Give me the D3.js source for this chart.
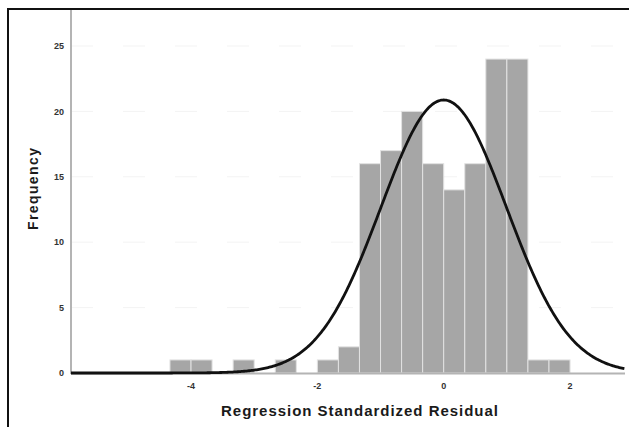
<!DOCTYPE html>
<html lang="en">
<head>
    <meta charset="UTF-8">
    <title>Histogram of Regression Standardized Residual</title>
    <script src="https://d3js.org/d3.v7.min.js"></script>
    <style>
        body { margin: 0; background: #fff; }
        svg { display: block; font-family: "Liberation Sans", Arial, sans-serif; }
    </style>
</head>
<body>

<script>
// bins are 1/3 wide, lower edge in thirds of a unit
const binStarts = [-13, -12, -10, -8, -6, -5, -4, -3, -2, -1, 0, 1, 2, 3, 4, 5];
const binCounts = [1, 1, 1, 1, 1, 2, 16, 17, 20, 16, 14, 16, 24, 24, 1, 1];
const binWidth = 1 / 3;

// fitted normal curve parameters
const residMean = 0;
const residSd = 0.994;
const residN = 156;

const xTicks = [-4, -2, 0, 2];
const yTicks = [0, 5, 10, 15, 20, 25];

const width = 629;
const height = 427;
const margin = {left: 71, top: 10, right: 4, bottom: 54};

const svg = d3.select("body").append("svg")
    .attr("width", width)
    .attr("height", height);

// outer frame (top and left edges visible)
svg.append("path")
    .attr("d", `M8,${height} V9 H${width}`)
    .attr("fill", "none")
    .attr("stroke", "#111")
    .attr("stroke-width", 2);

const x = d3.scaleLinear().domain([-5.9, 2.87]).range([margin.left, width - margin.right]);
const y = d3.scaleLinear().domain([0, 27.75]).range([height - margin.bottom, margin.top]);

// faint grid
svg.append("g")
    .selectAll("line")
    .data(yTicks.slice(1))
    .enter().append("line")
    .attr("x1", margin.left)
    .attr("x2", width - margin.right)
    .attr("y1", d => y(d))
    .attr("y2", d => y(d))
    .attr("stroke", "#f3f3f3")
    .attr("stroke-dasharray", "22,30");

// bars
const bins = binStarts.map((s, i) => ({x0: s * binWidth, x1: (s + 1) * binWidth, n: binCounts[i]}));
svg.append("g")
    .selectAll("rect")
    .data(bins)
    .enter().append("rect")
    .attr("x", d => x(d.x0))
    .attr("width", d => x(d.x1) - x(d.x0))
    .attr("y", d => y(d.n))
    .attr("height", d => y(0) - y(d.n))
    .attr("fill", "#a6a6a6")
    .attr("stroke", "#e2e2e2")
    .attr("stroke-width", 1);

// axes lines
svg.append("line")
    .attr("x1", margin.left).attr("x2", margin.left)
    .attr("y1", margin.top).attr("y2", y(0) + 1)
    .attr("stroke", "#b4b4b4").attr("stroke-width", 2);
svg.append("line")
    .attr("x1", margin.left).attr("x2", width - margin.right)
    .attr("y1", y(0) + 0.5).attr("y2", y(0) + 0.5)
    .attr("stroke", "#b4b4b4").attr("stroke-width", 2);

// normal curve
const peak = residN * binWidth / (residSd * Math.sqrt(2 * Math.PI));
const curvePts = d3.range(x.domain()[0], x.domain()[1] + 0.001, 0.02)
    .map(v => [v, peak * Math.exp(-0.5 * Math.pow((v - residMean) / residSd, 2))]);
svg.append("path")
    .datum(curvePts)
    .attr("d", d3.line().x(d => x(d[0])).y(d => y(d[1])))
    .attr("fill", "none")
    .attr("stroke", "#111")
    .attr("stroke-width", 2.8);

// tick labels
svg.append("g")
    .selectAll("text")
    .data(yTicks)
    .enter().append("text")
    .attr("x", 64)
    .attr("y", d => y(d))
    .attr("dy", "0.35em")
    .attr("text-anchor", "end")
    .attr("font-size", 9)
    .attr("font-weight", "bold")
    .attr("fill", "#333")
    .text(d => d);

svg.append("g")
    .selectAll("text")
    .data(xTicks)
    .enter().append("text")
    .attr("x", d => x(d))
    .attr("y", 386)
    .attr("dy", "0.35em")
    .attr("text-anchor", "middle")
    .attr("font-size", 9)
    .attr("font-weight", "bold")
    .attr("fill", "#333")
    .text(d => d);

// axis titles
svg.append("text")
    .attr("x", 221)
    .attr("y", 416)
    .attr("font-size", 15)
    .attr("font-weight", "bold")
    .attr("fill", "#1a1a1a")
    .attr("textLength", 277)
    .attr("lengthAdjust", "spacing")
    .text("Regression Standardized Residual");

svg.append("text")
    .attr("transform", "translate(38,230) rotate(-90)")
    .attr("font-size", 14)
    .attr("font-weight", "bold")
    .attr("fill", "#1a1a1a")
    .attr("textLength", 82)
    .attr("lengthAdjust", "spacing")
    .text("Frequency");
</script>

</body>
</html>
